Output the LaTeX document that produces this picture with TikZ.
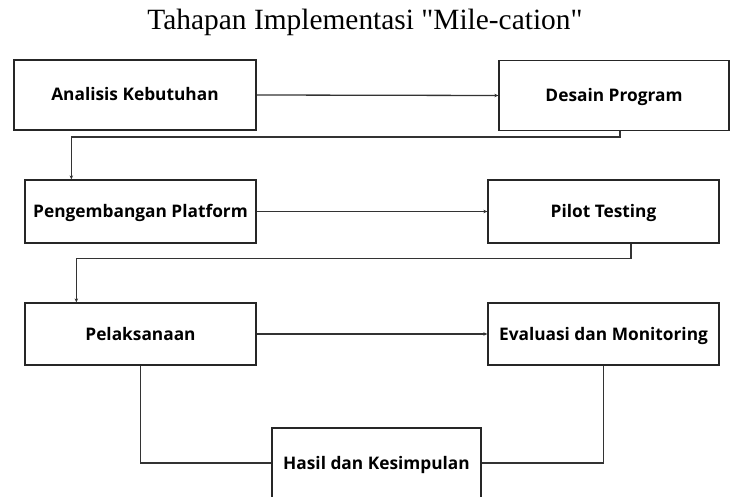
\documentclass[tikz,border=0pt]{standalone}
\usepackage{fontspec}
\newfontfamily\titolofont{Liberation Serif}
\setsansfont{Open Sans}
\usetikzlibrary{arrows.meta}

\tikzset{
  fase/.style={draw=black!85, line width=1.3pt, fill=white, inner sep=0pt,
    text height=15pt, text depth=3pt,
    font=\sffamily\bfseries\fontsize{17.3}{20}\selectfont},
  flusso/.style={draw=black!80, line width=1.3pt},
  freccia/.style={flusso, -{Stealth[length=4pt,width=3.5pt]}}
}

\begin{document}
\begin{tikzpicture}[x=1pt, y=-1pt]
        % Area del disegno (stessa proporzione del riferimento)
        \useasboundingbox (0,0) rectangle (730,497);

        % Titolo
        \node (titolo) at (365,22) {\titolofont\fontsize{29.4}{33}\selectfont Tahapan Implementasi "Mile-cation"};

        % Le fasi, posizionate in coordinate
        \node[fase, line width=2.4pt, minimum width=242pt, minimum height=70pt] (analisi) at (135,95) {Analisis Kebutuhan};
        \node[fase, minimum width=230pt, minimum height=70pt] (desain) at (614,95.5) {Desain Program};
        \node[fase, minimum width=231pt, minimum height=63pt] (sviluppo) at (140.5,211.5) {Pengembangan Platform};
        \node[fase, minimum width=231pt, minimum height=63pt] (pilot) at (603.5,211.5) {Pilot Testing};
        \node[fase, minimum width=231pt, minimum height=62pt] (esecuzione) at (140.5,334) {Pelaksanaan};
        \node[fase, minimum width=231pt, minimum height=62pt] (valutazione) at (603.5,334) {Evaluasi dan Monitoring};
        \node[fase, minimum width=209pt, minimum height=70pt] (risultati) at (376.5,463) {Hasil dan Kesimpulan};

        % Frecce orizzontali
        \draw[freccia] (analisi.east) -- (desain.west);
        \draw[freccia] (sviluppo.east) -- (pilot.west);
        \draw[freccia] (esecuzione.east) -- (valutazione.west);

        % Ritorni a capo verso la riga successiva
        \draw[freccia] ([xshift=6pt]desain.south) -- ++(0,6) -| ([xshift=47pt]sviluppo.north west);
        \draw[freccia] ([xshift=27.5pt]pilot.south) -- ++(0,15) -| ([xshift=52pt]esecuzione.north west);

        % Rami verso il risultato finale (senza punta)
        \draw[flusso] (esecuzione.south) |- (risultati.west);
        \draw[flusso] (valutazione.south) |- (risultati.east);
    \end{tikzpicture}
\end{document}
